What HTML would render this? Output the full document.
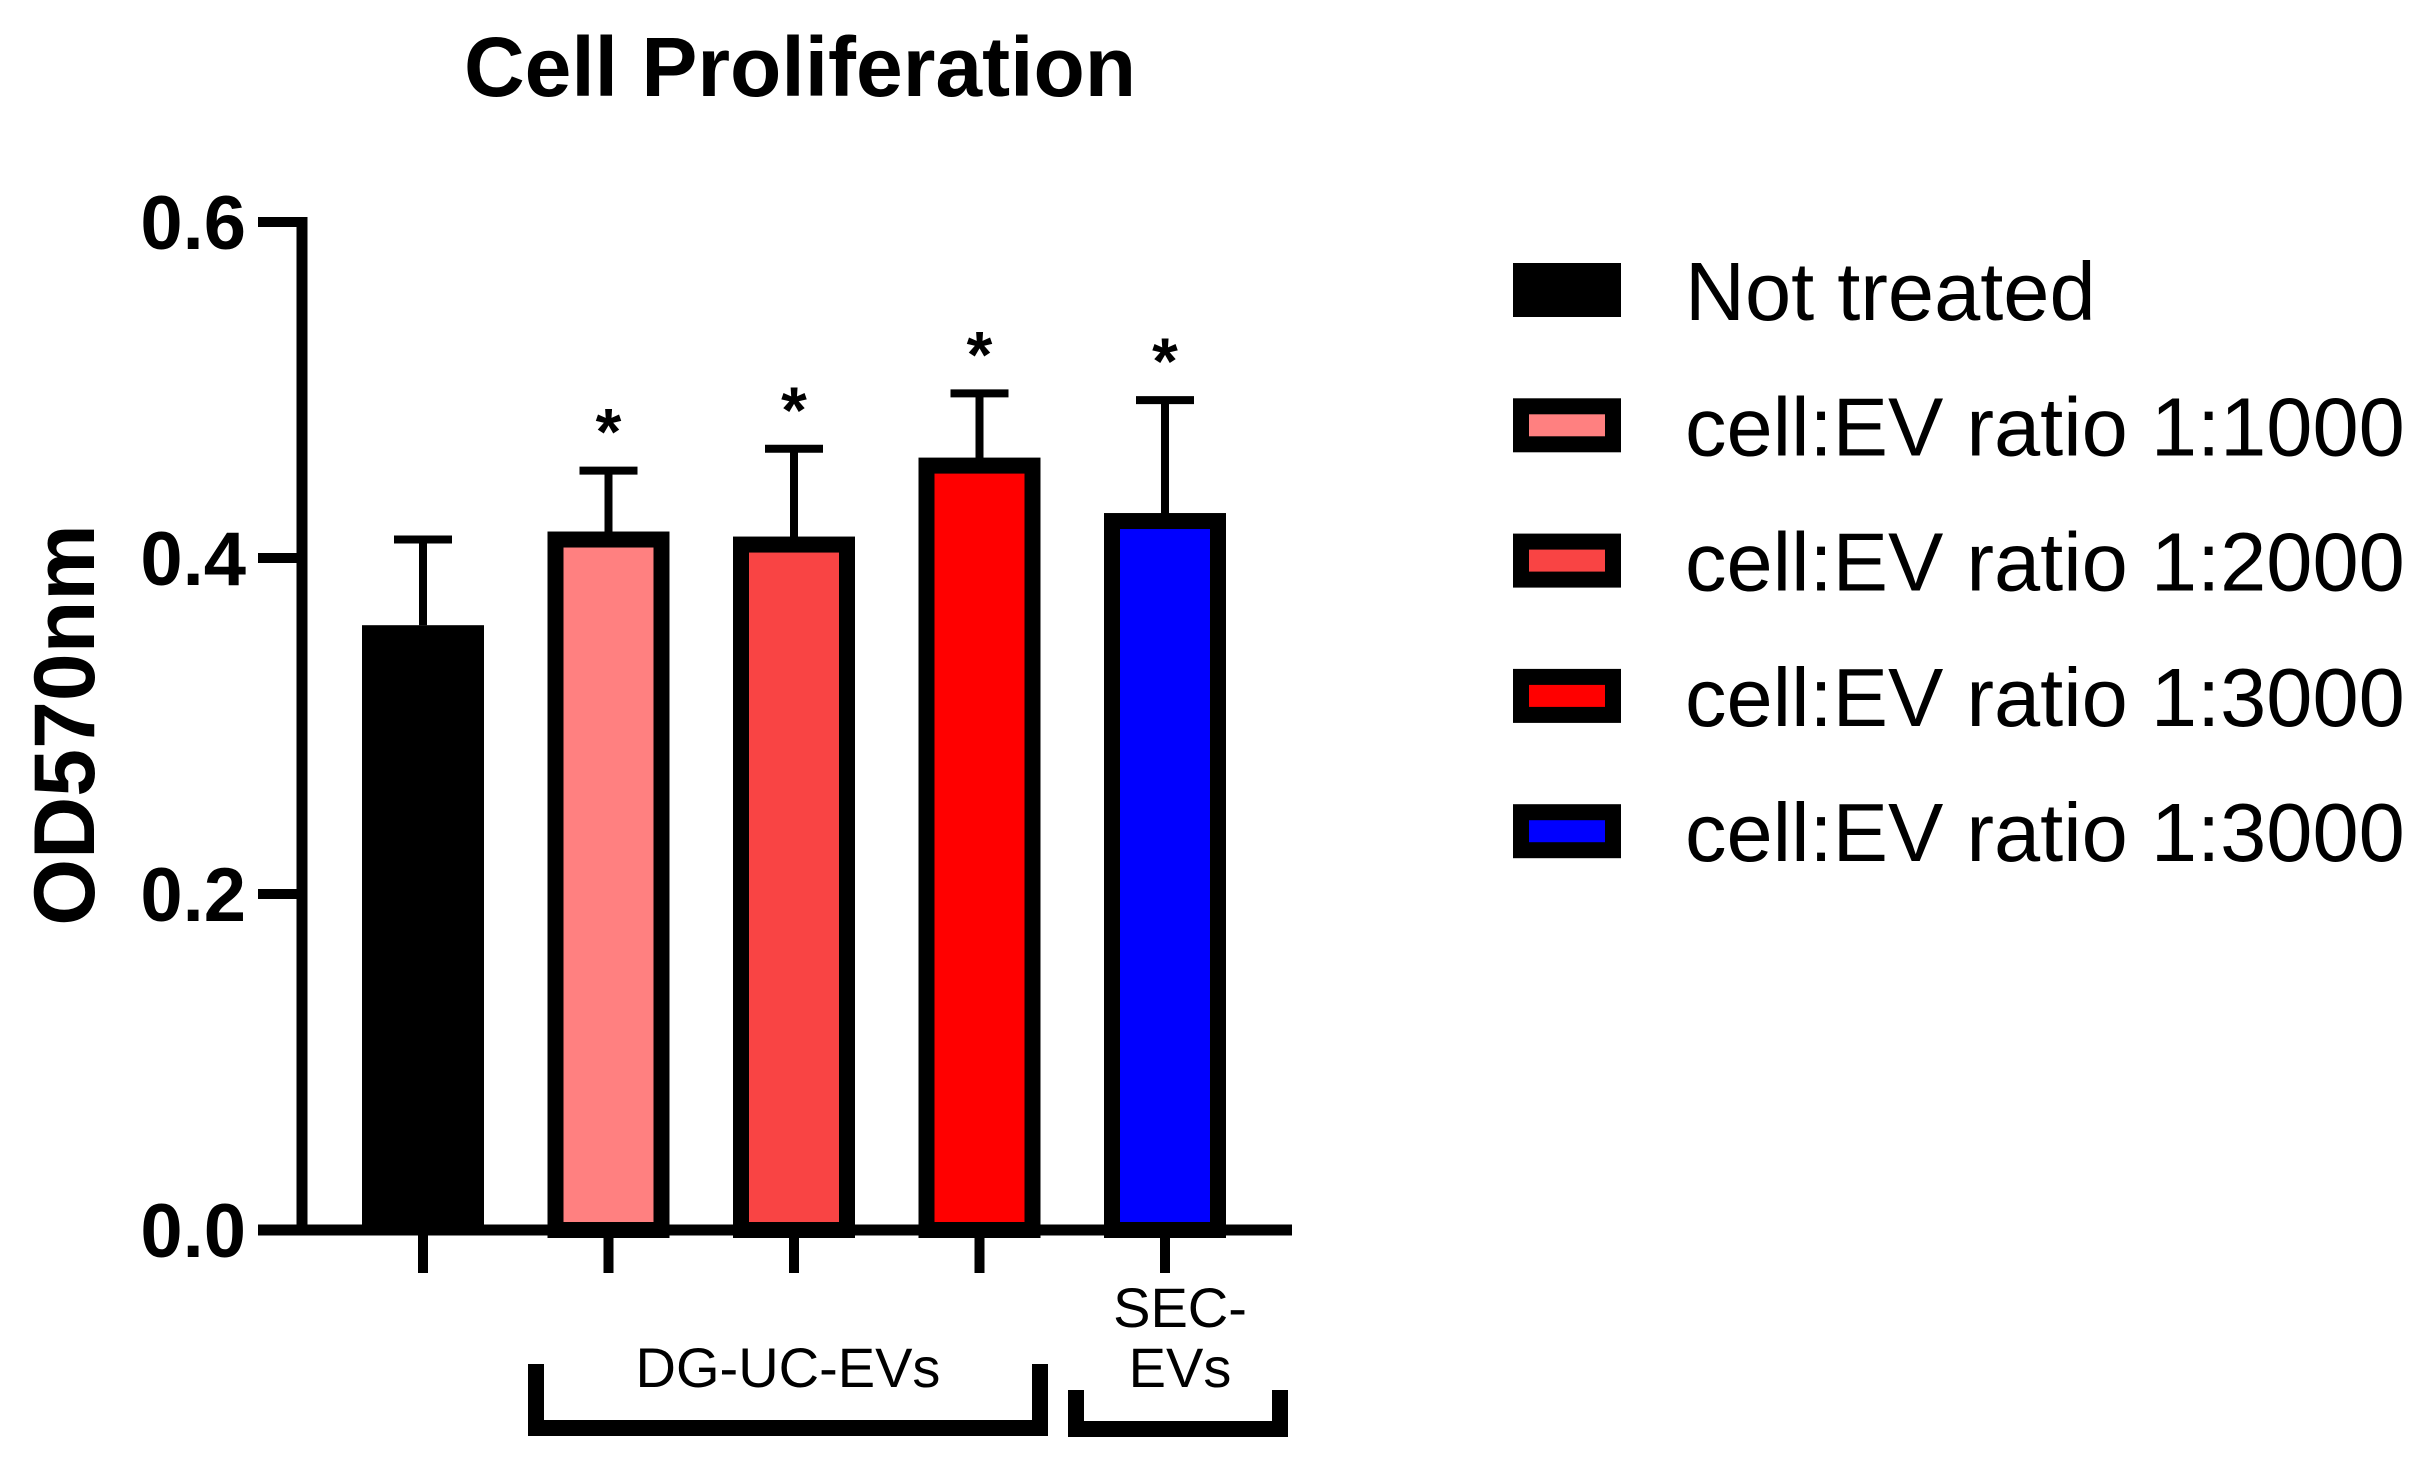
<!DOCTYPE html>
<html><head><meta charset="utf-8"><style>
html,body{margin:0;padding:0;background:#fff}
svg{display:block}
text{font-family:"Liberation Sans",Arial,sans-serif}
</style></head><body>
<svg id="chart" width="2436" height="1465" viewBox="0 0 2436 1465" xmlns="http://www.w3.org/2000/svg">
<text x="800" y="96" font-size="84" font-weight="bold" text-anchor="middle">Cell Proliferation</text>
<text transform="translate(94,725) rotate(-90)" font-size="86" font-weight="bold" text-anchor="middle">OD570nm</text>
<g id="axes"></g>
<g id="bars"></g>
<g id="groups"></g>
<g id="legend"></g>
</svg>
<script>
const categories = ["Not treated","cell:EV ratio 1:1000","cell:EV ratio 1:2000","cell:EV ratio 1:3000","cell:EV ratio 1:3000"];
const meanValues = [0.36, 0.411, 0.408, 0.455, 0.422];
const errorValues = [0.051, 0.041, 0.057, 0.043, 0.072];
const significant = [false, true, true, true, true];
const barColors = ["#000000","#ff8080","#f94444","#ff0000","#0000ff"];
const yTicks = [0, 0.2, 0.4, 0.6];
const yTickLabels = ["0.0","0.2","0.4","0.6"];

const NS="http://www.w3.org/2000/svg";
function mk(tag, attrs, parent){const e=document.createElementNS(NS,tag);for(const k in attrs)e.setAttribute(k,attrs[k]);parent.appendChild(e);return e;}
const y = v => 1230 - v*1680;
const x = i => 423 + i*185.5;
const axes=document.getElementById('axes'), bars=document.getElementById('bars'), groups=document.getElementById('groups'), legend=document.getElementById('legend');

let l=mk('line',{x1:302,y1:y(0.6)-5,x2:302,y2:1235,stroke:'#000','stroke-width':11},axes);


l=mk('line',{x1:258,y1:1230,x2:1292,y2:1230,stroke:'#000','stroke-width':11},axes);


yTicks.forEach((t,i)=>{
  const tk=mk('line',{x1:258,y1:y(t),x2:302,y2:y(t),stroke:'#000','stroke-width':10},axes);
  
  
  const tx=mk('text',{x:246,y:y(t)+27,'font-size':76,'font-weight':'bold','text-anchor':'end'},axes);
  tx.textContent=yTickLabels[i];
  
  
});
meanValues.forEach((v,i)=>{
  const cx=x(i), top=y(v);
  const et=y(v+errorValues[i]);
  const e1=mk('line',{x1:cx,y1:top,x2:cx,y2:et,stroke:'#000','stroke-width':8},bars);
  
  
  const e2=mk('line',{x1:cx-29,y1:et,x2:cx+29,y2:et,stroke:'#000','stroke-width':8},bars);
  
  
  let r;
  if(i===0){ r=mk('rect',{x:cx-61,y:top,width:122,height:1230-top,fill:'#000'},bars); }
  else { r=mk('rect',{x:cx-53,y:top,width:106,height:1230-top,fill:barColors[i],stroke:'#000','stroke-width':16},bars); }
  
  
  const tk=mk('line',{x1:cx,y1:1230,x2:cx,y2:1273,stroke:'#000','stroke-width':10},axes);
  
  
  if(significant[i]){
    const s=mk('text',{x:cx,y:et-16,'font-size':66,'font-weight':'bold','text-anchor':'middle'},bars);
    s.textContent='*';
    
    
  }
});
let b=mk('path',{d:'M536 1364 V1428 H1040 V1364',fill:'none',stroke:'#000','stroke-width':16},groups);


b=mk('path',{d:'M1076 1390 V1429 H1280 V1390',fill:'none',stroke:'#000','stroke-width':16},groups);


let t=mk('text',{x:788,y:1387,'font-size':56,'text-anchor':'middle'},groups);
t.textContent='DG-UC-EVs';


t=mk('text',{x:1180,y:1327,'font-size':56,'text-anchor':'middle'},groups);
t.textContent='SEC-';


t=mk('text',{x:1180,y:1387,'font-size':56,'text-anchor':'middle'},groups);
t.textContent='EVs';



categories.forEach((c,i)=>{
  const cy=290+i*135.3;
  let sw;
  if(i===0){ sw=mk('rect',{x:1513,y:cy-27,width:108,height:54,fill:'#000'},legend); }
  else { sw=mk('rect',{x:1521,y:cy-19,width:92,height:38,fill:barColors[i],stroke:'#000','stroke-width':16},legend); }
  
  
  const lt=mk('text',{x:1685,y:cy+30,'font-size':83},legend);
  lt.textContent=c;
  
  
});
</script>
</body></html>
